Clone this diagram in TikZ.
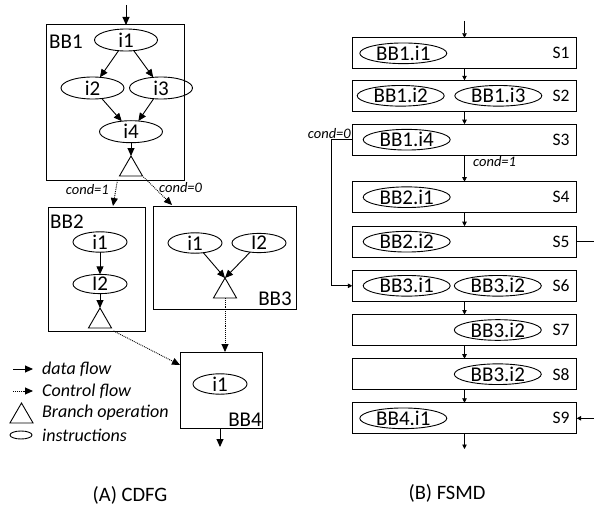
\documentclass[tikz,border=0pt]{standalone}
\usepackage{fontspec}
\setmainfont{Carlito}
\usetikzlibrary{arrows.meta,shapes.geometric,calc}
\begin{document}
\begin{tikzpicture}[x=1pt,y=-1pt,
  bbox/.style={draw,line width=1pt,inner sep=0pt,outer sep=0pt},
  bblabel/.style={inner sep=0pt,font=\fontsize{21}{23}\selectfont},
  ins/.style={draw,ellipse,line width=0.9pt,inner sep=0pt,outer sep=0pt,font=\fontsize{21}{23}\selectfont},
  insA/.style={ins,minimum width=63pt,minimum height=22pt},
  insB/.style={ins,minimum width=54pt,minimum height=18pt},
  insS/.style={ins,minimum width=87pt,minimum height=20pt},
  brop/.style={draw,regular polygon,regular polygon sides=3,minimum size=26.6pt,inner sep=0pt,outer sep=0pt,line width=0.9pt},
  df/.style={-{Triangle[length=8pt,width=7pt]},line width=0.9pt},
  cf/.style={-{Triangle[length=8pt,width=7pt]},densely dotted,line width=0.9pt},
  stbox/.style={draw,line width=1pt,minimum width=224.4pt,minimum height=31pt,inner sep=0pt,outer sep=0pt},
  stlabel/.style={anchor=east,inner sep=0pt,font=\fontsize{17.5}{19}\selectfont},
  sa/.style={-{Triangle[length=4.5pt,width=4.5pt]},line width=0.8pt},
  condlbl/.style={inner sep=1pt,font=\fontsize{14.5}{16}\selectfont\itshape},
  legtxt/.style={anchor=west,inner sep=0pt,font=\fontsize{18}{20}\selectfont\itshape},
  caption/.style={inner sep=0pt,font=\fontsize{20.5}{22}\selectfont}
]
\useasboundingbox (0,0) rectangle (594,508);

% ---------------- (A) CDFG ----------------
% basic block frames
\node[bbox,minimum width=138pt,minimum height=155pt] (BB1) at (115,102.5) {};
\node[bbox,minimum width=97pt,minimum height=124pt] (BB2) at (96.5,269) {};
\node[bbox,minimum width=143pt,minimum height=103pt] (BB3) at (224.5,257.5) {};
\node[bbox,minimum width=82pt,minimum height=76pt] (BB4) at (221,390) {};

\node[bblabel,anchor=west] (lBB1) at (49,42) {BB1};
\node[bblabel,anchor=west] (lBB2) at (50,222) {BB2};
\node[bblabel,anchor=east] (lBB3) at (292,299) {BB3};
\node[bblabel,anchor=east] (lBB4) at (262,420) {BB4};

% BB1 contents
\node[insA] (a1) at (126,40) {i1};
\node[insA] (a2) at (92.5,88) {i2};
\node[insA] (a3) at (161,88) {i3};
\node[insA] (a4) at (131,131.7) {i4};
\node[brop] (t1) at (131,169.3) {};

% BB2 contents
\node[insB] (b1) at (100,242) {i1};
\node[insB] (b2) at (100,284) {I2};
\node[brop] (t2) at (100,321.3) {};

% BB3 contents
\node[insB] (c1) at (195,243) {i1};
\node[insB] (c2) at (259,243) {I2};
\node[brop] (t3) at (225,291.3) {};

% BB4 contents
\node[insB] (d1) at (220,384) {i1};

% entry / exit
\coordinate (inA) at (126,5);
\coordinate (outA) at (220,447);

% data flow
\draw[df] (inA) -- (inA |- BB1.north);
\draw[df] (a1) -- (a2);
\draw[df] (a1) -- (a3);
\draw[df] (a2) -- (a4);
\draw[df] (a3) -- (a4);
\draw[df] (a4) -- (t1.corner 1);
\draw[df] (b1) -- (b2);
\draw[df] (b2) -- (t2.corner 1);
\draw[df] (c1) -- (t3.corner 1);
\draw[df] (c2) -- (t3.corner 1);
\draw[df] (BB4.south -| outA) -- (outA);

% control flow
\draw[cf] ($(t1.corner 2)+(-2,4)$) -- ($(BB2.north)+(16.5,-1)$);
\draw[cf] ($(t1.corner 3)+(1,1)$) -- ($(BB3.north west)+(19,-1)$);
\draw[cf] (t3.south) -- (t3.south |- BB4.north);
\draw[cf] ($(t2.corner 3)+(2,3)$) -- ($(BB4.north west)+(0,13)$);

\node[condlbl,anchor=east] (cond1) at (110,190) {cond=1};
\node[condlbl,anchor=west] (cond0) at (158,188) {cond=0};

% legend
\coordinate (lg1a) at (13,369);
\coordinate (lg1b) at (33,369);
\coordinate (lg2a) at (13,391);
\coordinate (lg2b) at (33,391);
\draw[df] (lg1a) -- (lg1b);
\draw[cf] (lg2a) -- (lg2b);
\node[brop] (lgt) at (21.5,416.3) {};
\node[draw,ellipse,line width=0.9pt,minimum width=22pt,minimum height=8pt,inner sep=0pt] (lge) at (21,435) {};
\node[legtxt] (lt1) at (42,369) {data flow};
\node[legtxt] (lt2) at (42,391) {Control flow};
\node[legtxt] (lt3) at (42,413) {Branch operation};
\node[legtxt] (lt4) at (42,435) {instructions};

\node[caption] (capA) at (130,495) {(A) CDFG};

% ---------------- (B) FSMD ----------------
\node[stbox] (S1) at (464.5,53.3) {};
\node[stbox] (S2) at (464.5,95.8) {};
\node[stbox] (S3) at (464.5,139.7) {};
\node[stbox] (S4) at (464.5,197.2) {};
\node[stbox] (S5) at (464.5,241.7) {};
\node[stbox] (S6) at (464.5,285.8) {};
\node[stbox] (S7) at (464.5,330) {};
\node[stbox] (S8) at (464.5,374.2) {};
\node[stbox] (S9) at (464.5,418.3) {};

\foreach \s in {1,...,9} {
  \node[stlabel] (lS\s) at ($(S\s.east)+(-7,0)$) {S\s};
}

\node[insS] (e1) at (403.3,53.3) {BB1.i1};
\node[insS] (e2) at (400.7,95.8) {BB1.i2};
\node[insS] (e3) at (498.3,95.8) {BB1.i3};
\node[insS] (e4) at (406.7,139.7) {BB1.i4};
\node[insS] (e5) at (406.7,197.2) {BB2.i1};
\node[insS] (e6) at (406.7,241.7) {BB2.i2};
\node[insS] (e7) at (406.7,285.8) {BB3.i1};
\node[insS] (e8) at (497.8,285.8) {BB3.i2};
\node[insS] (e9) at (497.8,330) {BB3.i2};
\node[insS] (e10) at (497.8,374.2) {BB3.i2};
\node[insS] (e11) at (403.3,418.3) {BB4.i1};

\coordinate (inB) at (464.5,21);
\coordinate (outB) at (464.5,449);
\coordinate (r5) at (594,241.7);
\coordinate (r9) at (594,418.3);

\draw[sa] (inB) -- (S1.north);
\draw[sa] (S1.south) -- (S2.north);
\draw[sa] (S2.south) -- (S3.north);
\draw[sa] (S3.south) -- (S4.north);
\draw[sa] (S4.south) -- (S5.north);
\draw[sa] (S6.south) -- (S7.north);
\draw[sa] (S7.south) -- (S8.north);
\draw[sa] (S8.south) -- (S9.north);
\draw[sa] (S9.south) -- (outB);
\draw[sa] (S3.west) -- ++(-20.6,0) |- (S6.west);
\draw[line width=0.8pt] (S5.east) -- (r5);
\draw[sa] (r9) -- (S9.east);

\node[condlbl,anchor=south east] (c0B) at (352,140) {cond=0};
\node[condlbl,anchor=west] (c1B) at (472,162) {cond=1};

\node[caption] (capB) at (447,493) {(B) FSMD};
\end{tikzpicture}
\end{document}
